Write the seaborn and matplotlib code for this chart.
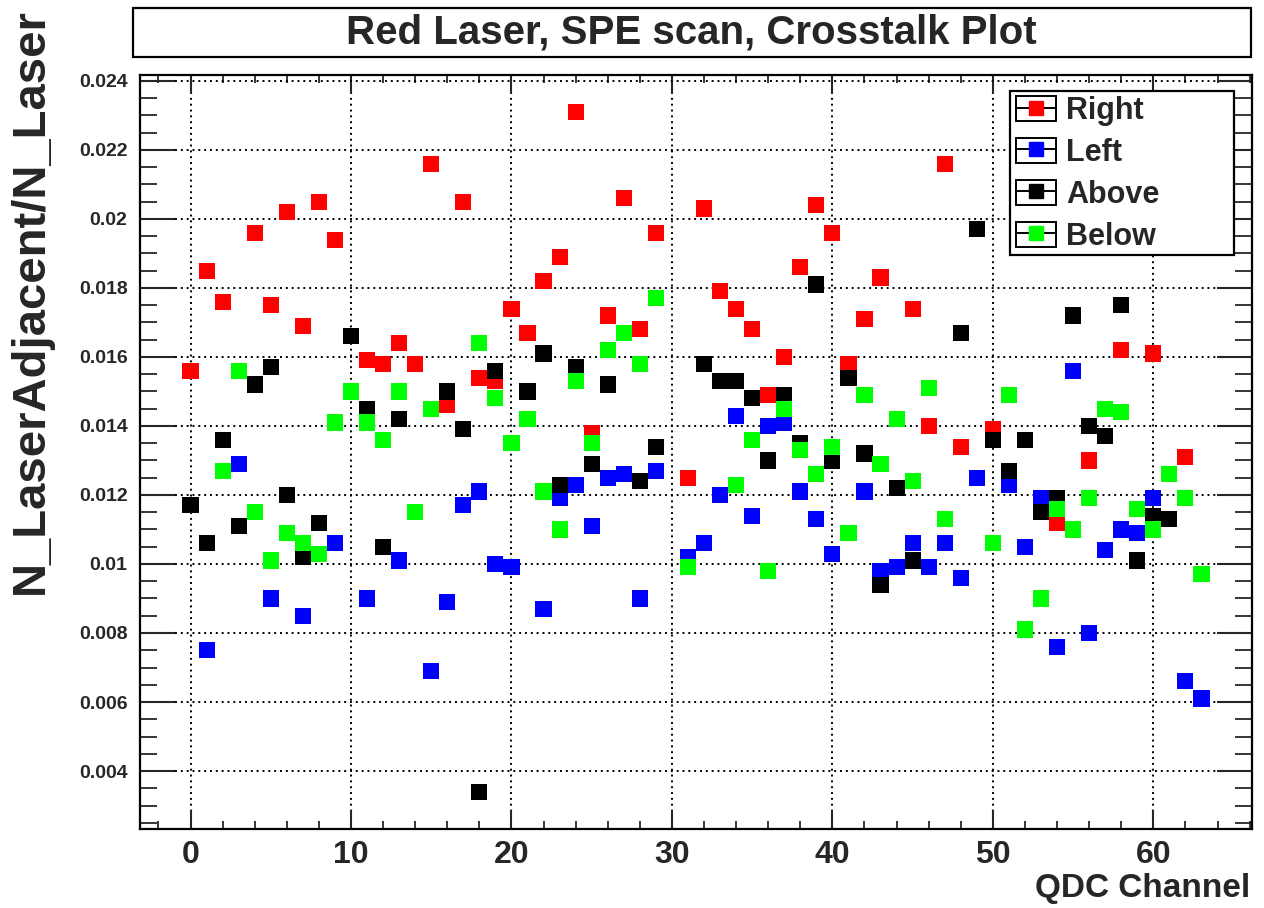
import numpy as np
import pandas as pd
import matplotlib
matplotlib.use("Agg")
import matplotlib.pyplot as plt
import seaborn as sns
from matplotlib.patches import Rectangle
from matplotlib.lines import Line2D
from matplotlib.legend_handler import HandlerTuple
from matplotlib.ticker import MultipleLocator, FuncFormatter

nan = np.nan

# QDC channel index (8x8 anode map)
channels = list(range(64))

# crosstalk fraction N_LaserAdjacent / N_Laser for each neighbour direction
right = [0.0156, 0.0185, 0.0176, nan, 0.0196, 0.0175, 0.0202, 0.0169,
         0.0205, 0.0194, nan, 0.0159, 0.0158, 0.0164, 0.0158, 0.0216,
         0.0146, 0.0205, 0.0154, 0.0153, 0.0174, 0.0167, 0.0182, 0.0189,
         0.0231, 0.0138, 0.0172, 0.0206, 0.0168, 0.0196, nan, 0.0125,
         0.0203, 0.0179, 0.0174, 0.0168, 0.0149, 0.0160, 0.0186, 0.0204,
         0.0196, 0.0158, 0.0171, 0.0183, nan, 0.0174, 0.0140, 0.0216,
         0.0134, nan, 0.0139, nan, nan, nan, 0.0112, nan,
         0.0130, nan, 0.0162, nan, 0.0161, nan, 0.0131, nan]

left = [nan, 0.0075, nan, 0.0129, nan, 0.0090, nan, 0.0085,
        nan, 0.0106, nan, 0.0090, nan, 0.0101, nan, 0.0069,
        0.0089, 0.0117, 0.0121, 0.0100, 0.0099, nan, 0.0087, 0.0119,
        0.0123, 0.0111, 0.0125, 0.0126, 0.0090, 0.0127, nan, 0.0102,
        0.0106, 0.0120, 0.0143, 0.0114, 0.0140, 0.0141, 0.0121, 0.0113,
        0.0103, nan, 0.0121, 0.0098, 0.0099, 0.0106, 0.0099, 0.0106,
        0.0096, 0.0125, nan, 0.0123, 0.0105, 0.0119, 0.0076, 0.0156,
        0.0080, 0.0104, 0.0110, 0.0109, 0.0119, nan, 0.0066, 0.0061]

above = [0.0117, 0.0106, 0.0136, 0.0111, 0.0152, 0.0157, 0.0120, 0.0102,
         0.0112, nan, 0.0166, 0.0145, 0.0105, 0.0142, nan, nan,
         0.0150, 0.0139, 0.0034, 0.0156, nan, 0.0150, 0.0161, 0.0123,
         0.0157, 0.0129, 0.0152, nan, 0.0124, 0.0134, nan, nan,
         0.0158, 0.0153, 0.0153, 0.0148, 0.0130, 0.0149, 0.0135, 0.0181,
         0.0130, 0.0154, 0.0132, 0.0094, 0.0122, 0.0101, nan, nan,
         0.0167, 0.0197, 0.0136, 0.0127, 0.0136, 0.0115, 0.0119, 0.0172,
         0.0140, 0.0137, 0.0175, 0.0101, 0.0114, 0.0113, nan, nan]

below = [nan, nan, 0.0127, 0.0156, 0.0115, 0.0101, 0.0109, 0.0106,
         0.0103, 0.0141, 0.0150, 0.0141, 0.0136, 0.0150, 0.0115, 0.0145,
         nan, nan, 0.0164, 0.0148, 0.0135, 0.0142, 0.0121, 0.0110,
         0.0153, 0.0135, 0.0162, 0.0167, 0.0158, 0.0177, nan, 0.0099,
         nan, nan, 0.0123, 0.0136, 0.0098, 0.0145, 0.0133, 0.0126,
         0.0134, 0.0109, 0.0149, 0.0129, 0.0142, 0.0124, 0.0151, 0.0113,
         nan, nan, 0.0106, 0.0149, 0.0081, 0.0090, 0.0116, 0.0110,
         0.0119, 0.0145, 0.0144, 0.0116, 0.0110, 0.0126, 0.0119, 0.0097]

series_names = ["Right", "Left", "Above", "Below"]
series_colors = ["#ff0000", "#0000ff", "#000000", "#00ff00"]

frames = []
for name, vals in zip(series_names, [right, left, above, below]):
    frames.append(pd.DataFrame({"channel": channels, "ratio": vals, "side": name}))
df = pd.concat(frames, ignore_index=True).dropna()

sns.set_style("ticks")
plt.rcParams["font.family"] = ["Liberation Sans", "DejaVu Sans"]
plt.rcParams["font.weight"] = "bold"
plt.rcParams["axes.linewidth"] = 1.6

W, H = 1264, 908
fig = plt.figure(figsize=(W / 100, H / 100), dpi=100, facecolor="white")


def fx(px):
    return px / W


def fy(py):
    return 1 - py / H


ax = fig.add_axes([fx(140), fy(829), fx(1252) - fx(140), fy(75) - fy(829)])
ax.set_facecolor("white")

sns.scatterplot(data=df, x="channel", y="ratio", hue="side",
                hue_order=series_names, palette=series_colors,
                marker="s", s=135, linewidth=0, legend=False, ax=ax,
                zorder=3)

ax.set_xlim(-3.15, 66.15)
ax.set_ylim(0.00232, 0.02417)

ax.xaxis.set_major_locator(MultipleLocator(10))
ax.xaxis.set_minor_locator(MultipleLocator(2))
ax.yaxis.set_major_locator(MultipleLocator(0.002))
ax.yaxis.set_minor_locator(MultipleLocator(0.0005))
ax.yaxis.set_major_formatter(FuncFormatter(lambda v, p: f"{v:.3f}".rstrip("0")))
ax.xaxis.set_major_formatter(FuncFormatter(lambda v, p: f"{v:.0f}"))

ax.tick_params(axis="x", which="major", direction="in", length=14, width=1.5,
               top=True, bottom=True, labelsize=23, pad=8)
ax.tick_params(axis="x", which="minor", direction="in", length=6, width=1.3,
               top=True, bottom=True)
ax.tick_params(axis="y", which="major", direction="in", length=25, width=1.5,
               left=True, right=True, labelsize=14, pad=9)
ax.tick_params(axis="y", which="minor", direction="in", length=12, width=1.3,
               left=True, right=True)
for lab in ax.get_xticklabels() + ax.get_yticklabels():
    lab.set_fontweight("bold")

ax.set_axisbelow(True)
ax.grid(True, which="major", color="black", linestyle=(0, (1, 2)), linewidth=1.4)
for sp in ax.spines.values():
    sp.set_color("black")
    sp.set_linewidth(1.6)

ax.set_xlabel("")
ax.set_ylabel("")

# axis titles
fig.text(fx(1250), fy(888), "QDC Channel", ha="right", va="center",
         fontsize=24, fontweight="bold")
fig.text(fx(31), fy(8), "N_LaserAdjacent/N_Laser", rotation=90,
         ha="center", va="top", fontsize=34, fontweight="bold")

# boxed title
fig.patches.append(Rectangle((fx(133), fy(57)), fx(1251) - fx(133), fy(8) - fy(57),
                             transform=fig.transFigure, facecolor="white",
                             edgecolor="black", linewidth=1.6))
fig.text(fx(691), fy(33), "Red Laser, SPE scan, Crosstalk Plot", ha="center",
         va="center", fontsize=29, fontweight="bold")

# legend frame and entries
ax.add_patch(Rectangle((fx(1010), fy(255)), fx(1234) - fx(1010), fy(91) - fy(255),
                       transform=fig.transFigure, facecolor="white",
                       edgecolor="black", linewidth=1.6, zorder=6, clip_on=False))
handles = []
for c in series_colors:
    box = Rectangle((0, 0), 1, 1, facecolor="white", edgecolor="black", linewidth=1.4)
    mark = Line2D([], [], color="black", linewidth=1.4, marker="s", markersize=10,
                  markerfacecolor=c, markeredgecolor=c)
    handles.append((box, mark))
leg = ax.legend(handles, series_names, handler_map={tuple: HandlerTuple(ndivide=1)},
                loc="upper left", bbox_to_anchor=(fx(1016), fy(96)),
                bbox_transform=fig.transFigure, frameon=False, borderpad=0,
                borderaxespad=0, handlelength=1.3, handleheight=0.88,
                handletextpad=0.35, labelspacing=0.39,
                prop={"weight": "bold", "size": 22})
leg.set_zorder(7)

fig.savefig("out.png", dpi=100, facecolor="white")
